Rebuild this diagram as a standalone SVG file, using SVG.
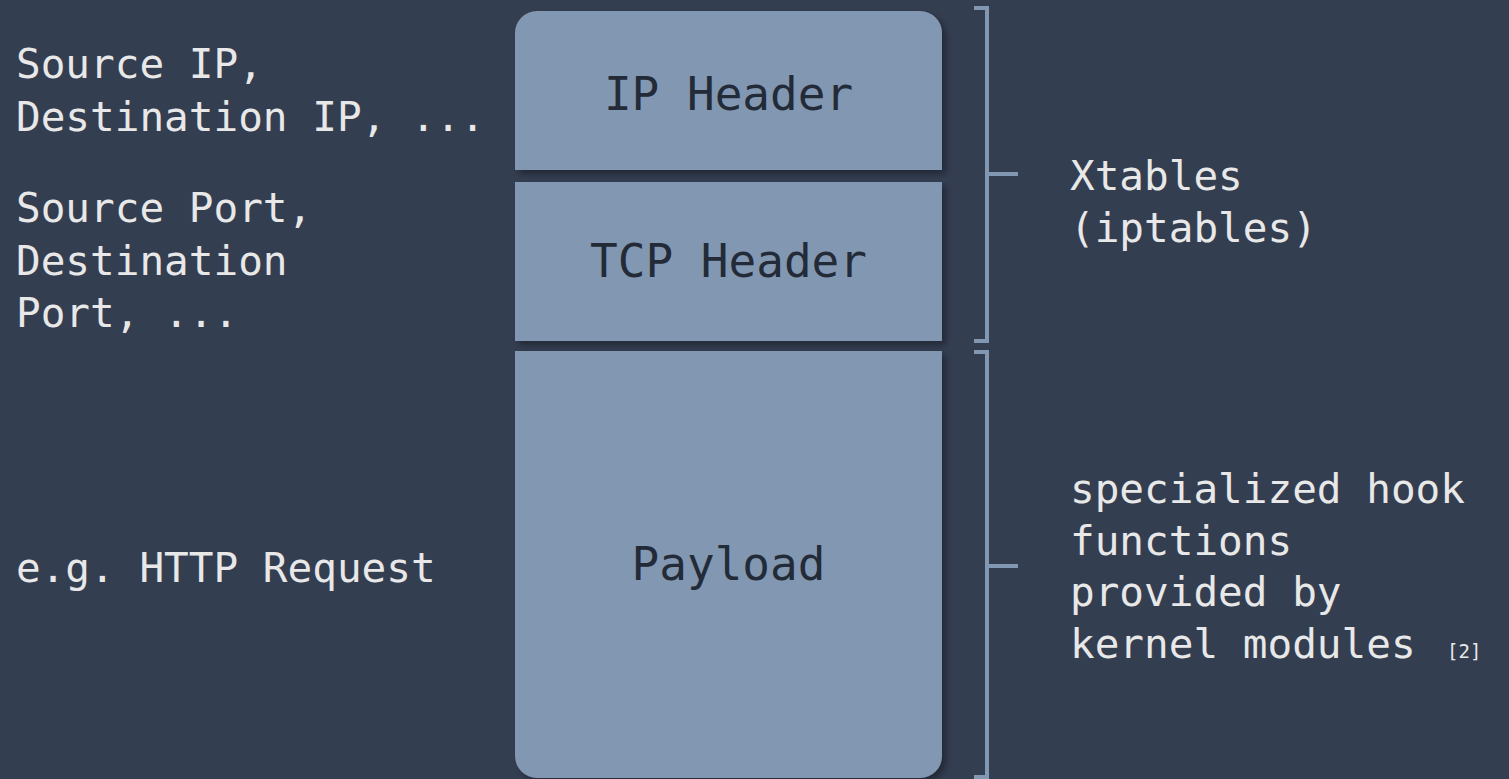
<svg xmlns="http://www.w3.org/2000/svg" width="1509" height="779" viewBox="0 0 1509 779">
<style>
.bg{fill:#343e51}
.box{fill:#8297b1}
.bt{font-family:"DejaVu Sans Mono","Liberation Mono",monospace;font-size:46px;fill:#232b38;text-anchor:middle}
.lt{font-family:"DejaVu Sans Mono","Liberation Mono",monospace;font-size:41px;fill:#e8e8e8}
.sm{font-family:"DejaVu Sans Mono","Liberation Mono",monospace;font-size:19px;fill:#e8e8e8}
.br{fill:none;stroke:#8297b1;stroke-width:4}
</style>
<defs>
<filter id="sh" x="-10%" y="-10%" width="125%" height="125%">
<feDropShadow dx="4" dy="4" stdDeviation="3" flood-color="#000" flood-opacity="0.35"/>
</filter>
</defs>
<rect class="bg" x="0" y="0" width="1509" height="779"/>
<g id="ip-header">
<path class="box" filter="url(#sh)" d="M515 170 V33 A22 22 0 0 1 537 11 H920 A22 22 0 0 1 942 33 V170 Z"/>
<text class="bt" x="728.5" y="110">IP Header</text>
</g>
<g id="tcp-header">
<rect class="box" filter="url(#sh)" x="515" y="182" width="427" height="159"/>
<text class="bt" x="728.5" y="277">TCP Header</text>
</g>
<g id="payload">
<path class="box" filter="url(#sh)" d="M515 351 H942 V756 A22 22 0 0 1 920 778 H537 A22 22 0 0 1 515 756 Z"/>
<text class="bt" x="728.5" y="580">Payload</text>
</g>
<g id="left-labels">
<text class="lt" x="16" y="78">Source IP,</text>
<text class="lt" x="16" y="131">Destination IP, ...</text>
<text class="lt" x="16" y="222">Source Port,</text>
<text class="lt" x="16" y="275">Destination</text>
<text class="lt" x="16" y="327">Port, ...</text>
<text class="lt" x="16" y="582">e.g. HTTP Request</text>
</g>
<g id="connectors">
<path class="br" d="M974 8 H987 V341 H974 M987 174 H1018"/>
<path class="br" d="M974 352 H987 V777 H974 M987 566 H1018"/>
</g>
<g id="right-labels">
<text class="lt" x="1070" y="190">Xtables</text>
<text class="lt" x="1070" y="242">(iptables)</text>
<text class="lt" x="1070" y="503">specialized hook</text>
<text class="lt" x="1070" y="555">functions</text>
<text class="lt" x="1070" y="606">provided by</text>
<text class="lt" x="1070" y="658">kernel modules</text>
<text class="sm" x="1447" y="658">[2]</text>
</g>
</svg>
